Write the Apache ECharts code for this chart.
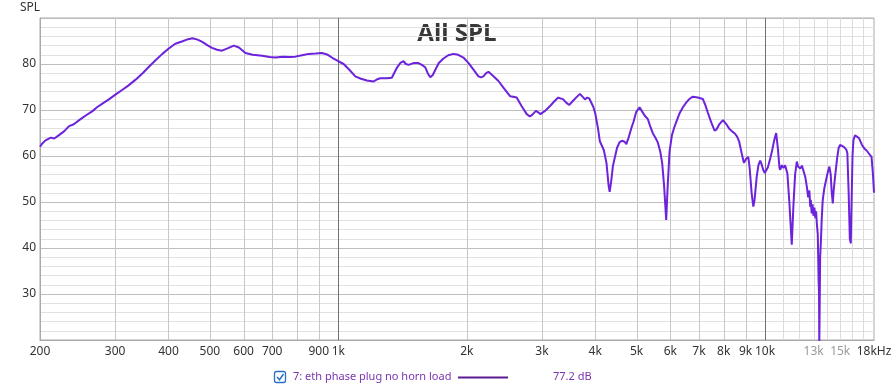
<!DOCTYPE html>
<html>
<head>
<meta charset="utf-8">
<script src="https://cdn.jsdelivr.net/npm/echarts@6/dist/echarts.min.js"></script>
<style>html,body{margin:0;padding:0;background:#fff;}#c{width:894px;height:391px;}</style>
</head>
<body>
<div id="c"></div>
<script>
// ---- data (Hz, dB SPL) ----
const freqs = [200,202,206,212,216,222,228,234,240,248,256,265,272,280,290,301,312,322,335,348,360,373,387,400,415,430,445,455,468,480,493,506,520,534,550,569,585,606,630,663,690,712,740,770,793,822,852,885,916,945,970,1000,1029,1060,1096,1130,1167,1210,1235,1254,1300,1335,1355,1372,1400,1422,1440,1461,1500,1541,1570,1598,1620,1642,1665,1687,1720,1764,1810,1860,1910,1964,2020,2080,2130,2160,2188,2220,2249,2300,2373,2450,2526,2570,2618,2690,2764,2812,2850,2904,2940,2977,3050,3131,3200,3277,3366,3420,3477,3540,3617,3683,3718,3785,3830,3873,3958,4000,4060,4101,4189,4250,4300,4324,4360,4400,4442,4500,4563,4620,4687,4730,4790,4858,4920,4991,5081,5150,5220,5314,5380,5460,5540,5608,5680,5741,5800,5866,5910,5973,6050,6136,6306,6420,6534,6650,6770,6960,7147,7250,7345,7480,7617,7700,7800,7969,8100,8266,8380,8495,8600,8698,8820,8922,9030,9134,9200,9300,9386,9450,9560,9650,9740,9800,9900,9984,10060,10150,10278,10374,10500,10618,10720,10807,10846,10950,11050,11140,11220,11280,11400,11550,11650,11760,11870,11950,12090,12200,12300,12420,12530,12620,12700,12760,12800,12860,12920,12980,13050,13120,13170,13230,13290,13350,13380,13400,13430,13460,13510,13580,13650,13770,13900,14030,14150,14250,14320,14410,14480,14590,14750,14880,14990,15150,15300,15400,15500,15590,15700,15800,15880,15950,16030,16110,16250,16410,16600,16870,17100,17300,17490,17650,17760,17900,18000];
const spl = [62.0,62.6,63.4,64.0,63.8,64.6,65.4,66.5,66.9,67.9,68.8,69.7,70.6,71.4,72.3,73.4,74.4,75.3,76.6,78.0,79.4,80.8,82.2,83.3,84.4,84.9,85.4,85.6,85.3,84.8,84.1,83.5,83.1,82.9,83.4,84.0,83.6,82.4,82.0,81.8,81.5,81.4,81.6,81.5,81.6,81.9,82.2,82.3,82.4,82.0,81.3,80.6,80.0,78.8,77.3,76.8,76.4,76.2,76.7,76.9,76.9,77.0,78.2,79.2,80.3,80.6,80.0,79.8,80.2,80.2,79.8,79.3,78.0,77.1,77.6,78.7,80.2,81.2,81.9,82.2,82.0,81.4,80.2,78.6,77.3,77.1,77.3,78.0,78.3,77.5,76.3,74.6,73.0,72.9,72.7,70.8,69.1,68.6,69.0,69.8,69.5,69.1,69.8,70.8,71.8,72.7,72.3,71.6,71.1,71.9,72.8,73.5,73.7,72.3,72.7,72.5,70.7,69.3,66.0,63.2,61.3,58.5,53.5,52.2,54.5,57.8,59.5,61.8,63.0,63.3,63.1,62.6,64.0,66.0,67.5,69.6,70.6,69.7,68.8,68.0,66.5,64.9,63.9,62.9,61.0,58.4,53.5,46.1,53.0,61.0,64.5,66.4,69.3,70.6,71.6,72.4,72.9,72.7,72.4,71.0,69.4,67.3,65.5,65.8,66.8,67.8,67.0,65.8,65.3,64.9,64.2,63.1,60.5,58.5,59.4,59.8,57.5,52.0,49.0,50.5,55.5,58.0,59.0,58.4,57.0,56.3,56.0,57.5,59.4,60.9,63.3,65.0,61.5,57.5,57.0,58.0,57.4,58.0,57.0,56.2,50.0,40.7,49.0,56.0,58.8,57.7,57.3,57.9,57.5,55.5,53.3,51.0,52.5,49.0,50.5,47.5,49.5,47.0,48.8,46.5,48.0,45.0,43.0,33.0,30.0,19.0,28.0,38.0,41.0,46.5,50.4,53.0,54.8,56.5,57.7,56.0,52.5,49.7,52.5,55.5,59.5,61.8,62.4,62.6,62.0,61.9,61.4,60.6,52.0,42.0,41.0,50.0,60.0,63.5,64.5,64.9,63.9,62.4,61.6,61.2,60.6,60.3,59.8,56.0,52.0];

const gridFreqs = [300,400,500,600,700,800,900,1000,2000,3000,4000,5000,6000,7000,8000,9000,10000,11000,12000,13000,14000,15000,16000,17000];
const labelFreqs = [200,300,400,500,600,700,900,1000,2000,3000,4000,5000,6000,7000,8000,9000,10000,13000,15000,18000];
const labelTexts = ['200','300','400','500','600','700','900','1k','2k','3k','4k','5k','6k','7k','8k','9k','10k','13k','15k','18kHz'];
const yTicks = [30,40,50,60,70,80];

const chart = echarts.init(document.getElementById('c'), null, {renderer:'canvas'});
const FONT = '"Noto Sans", sans-serif';

chart.setOption({
  animation: false,
  backgroundColor: '#ffffff',
  grid: {left: 40, right: 20, top: 18, bottom: 51, show: true, borderColor: '#aaaaaa', borderWidth: 1, outerBoundsMode: 'none'},
  xAxis: {
    type: 'log', logBase: 10, min: 200, max: 18000,
    axisLine: {show: true, lineStyle: {color: '#aaaaaa'}},
    axisTick: {show: false}, axisLabel: {show: false}, splitLine: {show: false}
  },
  yAxis: {
    type: 'value', min: 20, max: 90, interval: 10,
    axisLine: {show: true, lineStyle: {color: '#aaaaaa'}},
    axisTick: {show: false},
    axisLabel: {color: '#333', fontSize: 12, fontFamily: FONT, margin: 4,
      formatter: v => yTicks.indexOf(v) >= 0 ? String(v) : ''},
    splitLine: {show: true, lineStyle: {color: '#bdbdbd', width: 1}},
    minorTick: {show: false, splitNumber: 5},
    minorSplitLine: {show: true, lineStyle: {color: '#e1e1e1', width: 1}}
  },
  graphic: [
    {type: 'text', left: 20, top: 2, style: {text: 'SPL', fill: '#333', font: '12px ' + FONT}},
    {type: 'text', x: 457, y: 34, style: {text: 'All SPL', align: 'center', verticalAlign: 'middle', fill: '#383838', font: 'bold 24px "Open Sans", sans-serif'}},
    {type: 'rect', shape: {x: 274.5, y: 371.5, width: 11, height: 11, r: 2}, style: {fill: '#fff', stroke: '#2b6fc6', lineWidth: 1.3}},
    {type: 'polyline', shape: {points: [[277, 377], [279.5, 379.8], [283.5, 374]]}, style: {stroke: '#2b6fc6', lineWidth: 1.5, fill: null}},
    {type: 'text', x: 293, y: 377, style: {text: '7: eth phase plug no horn load', verticalAlign: 'middle', fill: '#7a33b0', font: '11px ' + FONT}},
    {type: 'line', shape: {x1: 458, y1: 377.5, x2: 508, y2: 377.5}, style: {stroke: '#5c1a92', lineWidth: 2}},
    {type: 'text', x: 553, y: 377, style: {text: '77.2 dB', verticalAlign: 'middle', fill: '#7a33b0', font: '11px ' + FONT}}
  ],
  series: [
    {
      type: 'custom', coordinateSystem: 'cartesian2d', silent: true, z: 1,
      data: gridFreqs.map(f => [f, 20]),
      renderItem: function (params, api) {
        const f = api.value(0);
        const p0 = api.coord([f, 20]);
        const p1 = api.coord([f, 90]);
        const x = Math.round(p0[0]) + 0.5;
        let col = '#c6c6c6';
        if (f === 1000 || f === 10000) col = '#707070';
        else if (f > 10000) col = '#dcdcdc';
        return {type: 'line', shape: {x1: x, y1: p0[1], x2: x, y2: p1[1]}, style: {stroke: col, lineWidth: 1}};
      }
    },
    {
      type: 'custom', coordinateSystem: 'cartesian2d', silent: true, z: 2, clip: false,
      data: labelFreqs.map(f => [f, 20]),
      renderItem: function (params, api) {
        const f = api.value(0);
        const p = api.coord([f, 20]);
        const t = labelTexts[params.dataIndex];
        const gray = (f === 13000 || f === 15000);
        return {type: 'text', x: p[0], y: p[1] + 12,
          style: {text: t, align: 'center', verticalAlign: 'middle', fill: gray ? '#9a9a9a' : '#333', font: '12px ' + FONT}};
      }
    },
    {
      name: '7: eth phase plug no horn load',
      type: 'line', z: 5, showSymbol: false, symbol: 'none', clip: true,
      data: freqs.map((f, i) => [f, spl[i]]),
      lineStyle: {color: '#6d22dc', width: 2},
      itemStyle: {color: '#6d22dc'}
    }
  ]
});
</script>
</body>
</html>
